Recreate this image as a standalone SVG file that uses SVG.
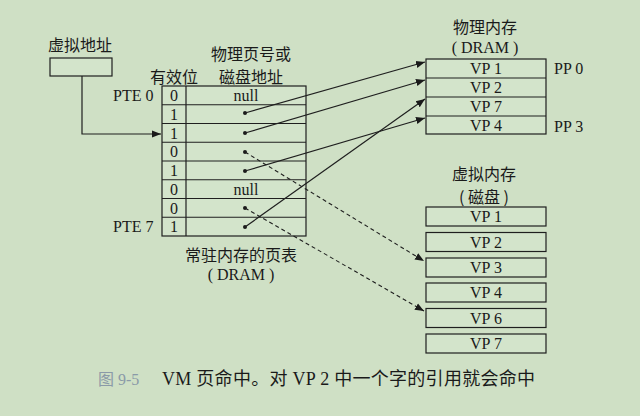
<svg xmlns="http://www.w3.org/2000/svg" width="640" height="416" viewBox="0 0 640 416">
  <defs>
    <style>
      .bg { fill: #cfe0c5; }
      .cell { fill: #d3e4cb; stroke: #1f1f1f; stroke-width: 1.2; }
      .line { fill: none; stroke: #1f1f1f; stroke-width: 1.2; }
      .dash { fill: none; stroke: #1f1f1f; stroke-width: 1.1; stroke-dasharray: 4 3; }
      .t { font-family: "Liberation Serif", "Noto Sans CJK SC", serif; font-size: 16px; fill: #1a1a1a; }
      .cjk { font-family: "Noto Sans CJK SC", "Liberation Serif", serif; font-size: 16px; fill: #1a1a1a; }
      .mid { text-anchor: middle; }
      .dot { fill: #1a1a1a; }
      .cap { font-family: "Liberation Serif", "Noto Sans CJK SC", serif; font-size: 18px; fill: #1a1a1a; }
      .capnum { font-family: "Liberation Serif", "Noto Sans CJK SC", serif; font-size: 16px; fill: #8a9aa8; }
    </style>
    <marker id="arr" viewBox="0 0 10 10" refX="10" refY="5" markerWidth="9" markerHeight="9" markerUnits="userSpaceOnUse" orient="auto">
      <path d="M0,1 L10,5 L0,9 z" fill="#1a1a1a"/>
    </marker>
  </defs>

  <rect class="bg" x="0" y="0" width="640" height="416"/>

  <!-- virtual address register -->
  <g id="vaddr">
    <text class="cjk" x="48" y="51">虚拟地址</text>
    <rect class="cell" x="50" y="58" width="62" height="18"/>
  </g>

  <!-- page table -->
  <g id="pagetable">
    <text class="cjk mid" x="251" y="60">物理页号或</text>
    <text class="cjk mid" x="251" y="83">磁盘地址</text>
    <text class="cjk mid" x="174" y="83">有效位</text>
    <rect class="cell" x="162" y="86" width="144" height="150"/>
    <line class="line" x1="186" y1="86" x2="186" y2="236"/>
    <line class="line" x1="162" y1="104.75" x2="306" y2="104.75"/>
    <line class="line" x1="162" y1="123.5" x2="306" y2="123.5"/>
    <line class="line" x1="162" y1="142.25" x2="306" y2="142.25"/>
    <line class="line" x1="162" y1="161" x2="306" y2="161"/>
    <line class="line" x1="162" y1="179.75" x2="306" y2="179.75"/>
    <line class="line" x1="162" y1="198.5" x2="306" y2="198.5"/>
    <line class="line" x1="162" y1="217.25" x2="306" y2="217.25"/>
    <text class="t" x="113" y="101">PTE 0</text>
    <text class="t" x="113" y="232">PTE 7</text>
    <g class="t mid">
      <text x="174" y="101">0</text>
      <text x="174" y="120">1</text>
      <text x="174" y="139">1</text>
      <text x="174" y="157">0</text>
      <text x="174" y="176">1</text>
      <text x="174" y="195">0</text>
      <text x="174" y="214">0</text>
      <text x="174" y="232">1</text>
      <text x="246" y="101">null</text>
      <text x="246" y="195">null</text>
    </g>
    <circle class="dot" cx="245" cy="113" r="2"/>
    <circle class="dot" cx="245" cy="133" r="2"/>
    <circle class="dot" cx="245" cy="152" r="2"/>
    <circle class="dot" cx="245" cy="171" r="2"/>
    <circle class="dot" cx="245" cy="208" r="2"/>
    <circle class="dot" cx="245" cy="227" r="2"/>
    <text class="cjk mid" x="241" y="261">常驻内存的页表</text>
    <text class="t mid" x="241" y="280">( DRAM )</text>
  </g>

  <!-- physical memory -->
  <g id="physmem">
    <text class="cjk mid" x="485" y="33">物理内存</text>
    <text class="t mid" x="485" y="53">( DRAM )</text>
    <rect class="cell" x="426" y="59" width="120" height="75"/>
    <line class="line" x1="426" y1="78" x2="546" y2="78"/>
    <line class="line" x1="426" y1="97" x2="546" y2="97"/>
    <line class="line" x1="426" y1="116" x2="546" y2="116"/>
    <g class="t mid">
      <text x="486" y="74">VP 1</text>
      <text x="486" y="93">VP 2</text>
      <text x="486" y="112">VP 7</text>
      <text x="486" y="131">VP 4</text>
    </g>
    <text class="t" x="554" y="74">PP 0</text>
    <text class="t" x="554" y="132">PP 3</text>
  </g>

  <!-- virtual memory on disk -->
  <g id="diskmem">
    <text class="cjk mid" x="484" y="180">虚拟内存</text>
    <text class="cjk mid" x="484" y="203">( 磁盘 )</text>
    <rect class="cell" x="426" y="207" width="120" height="19"/>
    <rect class="cell" x="426" y="232.5" width="120" height="19"/>
    <rect class="cell" x="426" y="258" width="120" height="19"/>
    <rect class="cell" x="426" y="283" width="120" height="19"/>
    <rect class="cell" x="426" y="308.5" width="120" height="19"/>
    <rect class="cell" x="426" y="334" width="120" height="19"/>
    <g class="t mid">
      <text x="486" y="222">VP 1</text>
      <text x="486" y="247.5">VP 2</text>
      <text x="486" y="273">VP 3</text>
      <text x="486" y="298">VP 4</text>
      <text x="486" y="323.5">VP 6</text>
      <text x="486" y="349">VP 7</text>
    </g>
  </g>

  <!-- connectors -->
  <g id="connectors">
    <polyline class="line" points="82,76 82,134 161,134" marker-end="url(#arr)"/>
    <line class="line" x1="245" y1="113" x2="425" y2="62" marker-end="url(#arr)"/>
    <line class="line" x1="245" y1="133" x2="425" y2="80" marker-end="url(#arr)"/>
    <line class="line" x1="245" y1="171" x2="425" y2="118" marker-end="url(#arr)"/>
    <line class="line" x1="245" y1="227" x2="425" y2="99" marker-end="url(#arr)"/>
    <line class="dash" x1="245" y1="152" x2="424" y2="261" marker-end="url(#arr)"/>
    <line class="dash" x1="245" y1="208" x2="424" y2="311" marker-end="url(#arr)"/>
  </g>

  <!-- caption -->
  <g id="caption">
    <text class="capnum" x="98" y="385">图 9-5</text>
    <text class="cap" x="162" y="385" textLength="373" lengthAdjust="spacing">VM 页命中。对 VP 2 中一个字的引用就会命中</text>
  </g>
</svg>
